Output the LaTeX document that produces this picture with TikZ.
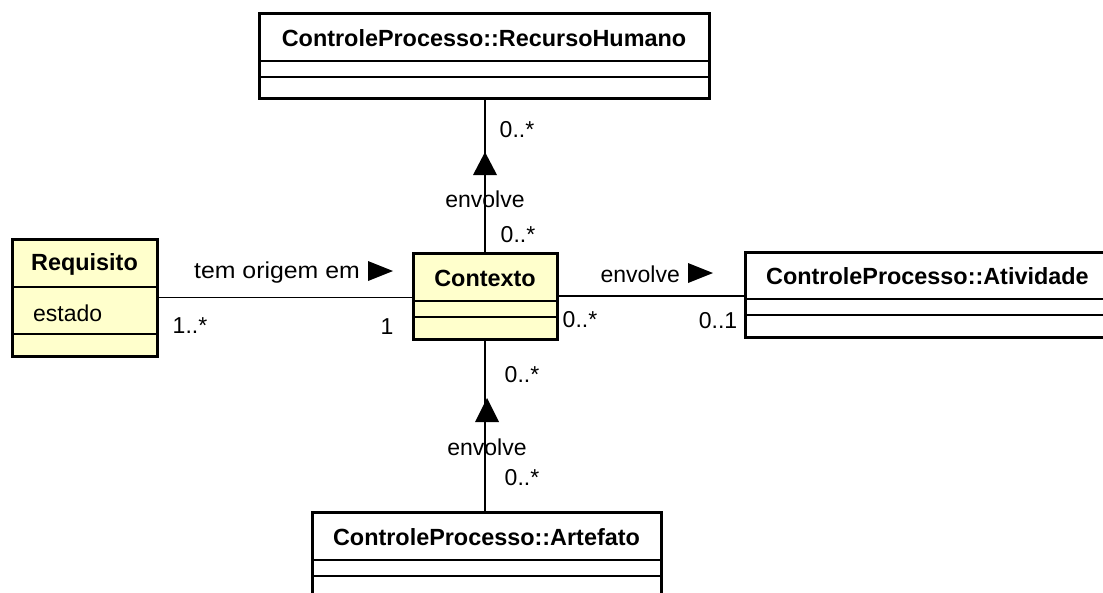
\documentclass[tikz,border=0pt]{standalone}
\usepackage{fontspec}
\usepackage{graphicx}
\setmainfont{Liberation Sans}
\definecolor{umlyellow}{RGB}{255,255,204}
\begin{document}
\begin{tikzpicture}[x=1pt,y=-1pt,
  classbox/.style={draw=black, line width=3pt, anchor=north west, inner sep=0pt, outer sep=0pt},
  plainbox/.style={classbox, fill=white},
  domainbox/.style={classbox, fill=umlyellow},
  classtitle/.style={font=\fontsize{23.4}{23.4}\selectfont\bfseries, inner sep=0pt},
  lbl/.style={font=\fontsize{23}{23}\selectfont, inner sep=0pt},
  sep/.style={line width=1.5pt},
  assoc/.style={line width=1.5pt},
  navtip/.style={fill=black}
]
\useasboundingbox[fill=white] (0,0) rectangle (1103,592);

% class boxes
\node[plainbox, minimum width=450pt, minimum height=85pt] (rh) at (259,13) {};
\node[domainbox, minimum width=145pt, minimum height=117pt] (req) at (12,239) {};
\node[domainbox, minimum width=144pt, minimum height=86pt] (ctx) at (413,253) {};
\node[plainbox, minimum width=370pt, minimum height=85pt] (act) at (745,252) {};
\node[plainbox, minimum width=349pt, minimum height=100pt] (art) at (312,512) {};

% compartment separators
\draw[sep] ([yshift=-48pt]rh.north west) -- ([yshift=-48pt]rh.north east);
\draw[sep] ([yshift=-64pt]rh.north west) -- ([yshift=-64pt]rh.north east);
\draw[sep] ([yshift=-48pt]req.north west) -- ([yshift=-48pt]req.north east);
\draw[sep] ([yshift=-95pt]req.north west) -- ([yshift=-95pt]req.north east);
\draw[sep] ([yshift=-48pt]ctx.north west) -- ([yshift=-48pt]ctx.north east);
\draw[sep] ([yshift=-64pt]ctx.north west) -- ([yshift=-64pt]ctx.north east);
\draw[sep] ([yshift=-47pt]act.north west) -- ([yshift=-47pt]act.north east);
\draw[sep] ([yshift=-63pt]act.north west) -- ([yshift=-63pt]act.north east);
\draw[sep] ([yshift=-48pt]art.north west) -- ([yshift=-48pt]art.north east);
\draw[sep] ([yshift=-64pt]art.north west) -- ([yshift=-64pt]art.north east);

% class names and attributes
\node[classtitle] (rhT) at ([yshift=-25pt]rh.north) {ControleProcesso::RecursoHumano};
\node[classtitle] (reqT) at ([yshift=-25pt]req.north) {Requisito};
\node[classtitle] (ctxT) at ([yshift=-25pt]ctx.north) {Contexto};
\node[classtitle, anchor=west] (actT) at (766,276) {ControleProcesso::Atividade};
\node[classtitle] (artT) at (486.5,537) {ControleProcesso::Artefato};
\node[lbl, anchor=west] (reqA) at (33,313) {estado};

% associations
\draw[assoc] (req.east) -- (req.east -| ctx.west);
\draw[assoc] (ctx.east) -- (ctx.east -| act.west);
\draw[assoc] (ctx.north) -- (ctx.north |- rh.south);
\draw[assoc] (ctx.south) -- (ctx.south |- art.north);

% association names with reading direction
\node[lbl, anchor=east] (n1) at (360,273) {\scalebox{1.08}[1]{tem origem em}};
\fill[navtip] (368,261) -- (393,271) -- (368,281) -- cycle;
\node[lbl, anchor=east] (n2) at (680,274) {envolve};
\fill[navtip] (688,263) -- (713,273) -- (688,283) -- cycle;
\node[lbl] (n3) at (485,199) {envolve};
\fill[navtip] (473,175) -- (485,152) -- (497,175) -- cycle;
\node[lbl] (n4) at (487,447) {envolve};
\fill[navtip] (475,422) -- (487,398) -- (499,422) -- cycle;

% multiplicities
\node[lbl] (m1) at (190,326) {1..*};
\node[lbl] (m2) at (387,327) {1};
\node[lbl] (m3) at (580,320) {0..*};
\node[lbl] (m4) at (718,321) {0..1};
\node[lbl] (m5) at (517,130) {0..*};
\node[lbl] (m6) at (518,235) {0..*};
\node[lbl] (m7) at (522,375) {0..*};
\node[lbl] (m8) at (522,478) {0..*};
\end{tikzpicture}
\end{document}
